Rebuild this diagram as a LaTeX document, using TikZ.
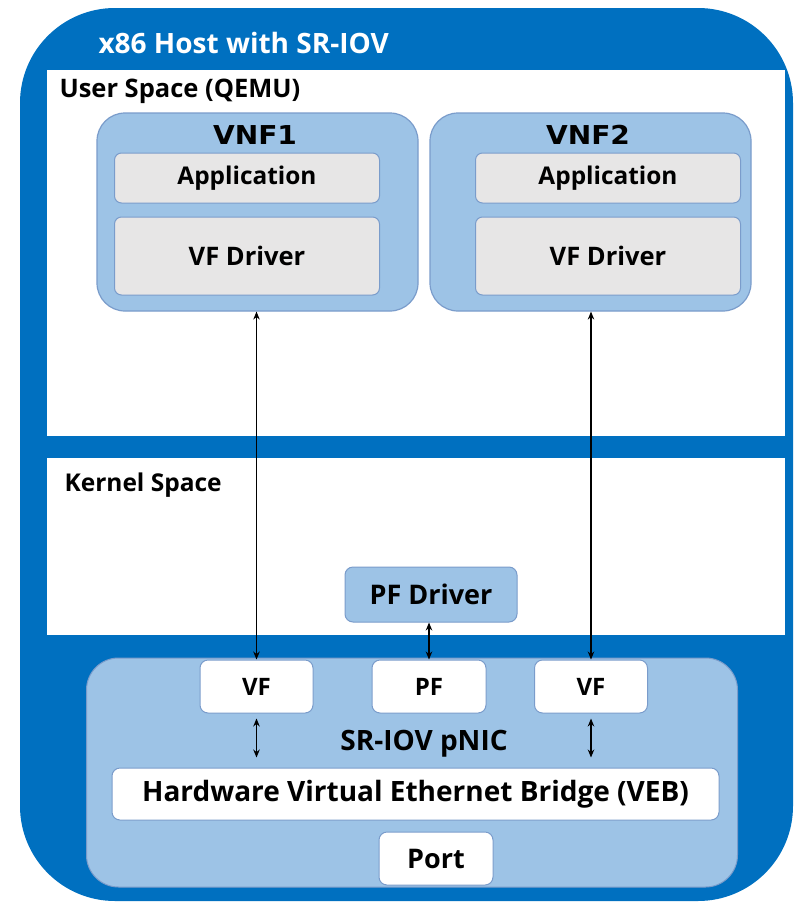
\documentclass[tikz,border=0pt]{standalone}
\usepackage{fontspec}
\setmainfont{Open Sans}
\newfontfamily\heavyfont{DejaVu Sans}
\usetikzlibrary{arrows.meta}
\definecolor{hostblue}{HTML}{0070C0}
\definecolor{lightblue}{HTML}{9DC3E6}
\definecolor{boxgray}{HTML}{E7E6E6}
\definecolor{edgeblue}{HTML}{7A9CCB}
\newcommand{\fsz}[1]{\fontsize{#1}{#1}\selectfont\bfseries}
\tikzset{
  panel/.style={fill=white, draw=none, minimum width=738, minimum height=#1, inner sep=0},
  vnfbox/.style={fill=lightblue, draw=edgeblue, line width=1.2, rounded corners=28, minimum width=321, minimum height=198, inner sep=0},
  graybox/.style={fill=boxgray, draw=edgeblue, line width=1, rounded corners=7, minimum width=265, inner sep=0},
  whitebox/.style={fill=white, draw=edgeblue, line width=1, rounded corners=8, inner sep=0},
  arr/.style={{Stealth[length=8,width=6.5]}-{Stealth[length=8,width=6.5]}, line width=1.2, black},
}
\newcommand{\vnflbl}{\heavyfont\fontsize{26}{26}\selectfont\bfseries}
\begin{document}
\begin{tikzpicture}[x=1pt,y=-1pt]
\useasboundingbox (0,0) rectangle (794,902);
% outer host
\fill[hostblue, rounded corners=95] (20,8) rectangle (793,901);
\node[anchor=west, text=white, font=\fsz{28}] (title) at (95,43) {x86 Host with SR-IOV};
% user space
\node[panel=366] (user) at (416,253) {};
\node[anchor=west, font=\fsz{25.5}] (userlbl) at (56,91) {User Space (QEMU)};
% kernel space
\node[panel=177] (kernel) at (416,546.5) {};
\node[anchor=west, font=\fsz{24.5}] (kernlbl) at (61,485) {Kernel Space};
% VNF1
\node[vnfbox] (vnf1) at (257.5,212) {};
\node[font=\vnflbl] (vnf1t) at (255,135) {\scalebox{1.08}[1]{VNF1}};
\node[graybox, minimum height=50, font=\fsz{24.4}] (app1) at (247,178) {Application};
\node[graybox, minimum height=78, font=\fsz{25.5}] (vfd1) at (247,256) {VF Driver};
% VNF2
\node[vnfbox] (vnf2) at (590.5,212) {};
\node[font=\vnflbl] (vnf2t) at (588,135) {\scalebox{1.08}[1]{VNF2}};
\node[graybox, minimum height=50, font=\fsz{24.4}] (app2) at (608,178) {Application};
\node[graybox, minimum height=78, font=\fsz{25.5}] (vfd2) at (608,256) {VF Driver};
% PF driver
\node[fill=lightblue, draw=edgeblue, line width=1, rounded corners=8, minimum width=172, minimum height=55, inner sep=0, font=\fsz{27}] (pfd) at (431,594.5) {PF Driver};
% pNIC
\node[fill=lightblue, draw=edgeblue, line width=1, rounded corners=32, minimum width=651, minimum height=229, inner sep=0] (nic) at (412,772.5) {};
\node[whitebox, minimum width=113, minimum height=53, font=\fsz{24}] (vf1) at (256.5,686.5) {VF};
\node[whitebox, minimum width=114, minimum height=53, font=\fsz{24}] (pf) at (429,686.5) {PF};
\node[whitebox, minimum width=113, minimum height=53, font=\fsz{24}] (vf2) at (591,686.5) {VF};
\node[font=\fsz{28}] (niclbl) at (424,744) {SR-IOV pNIC};
\node[whitebox, minimum width=607, minimum height=52, font=\fsz{28}] (veb) at (415.5,794) {Hardware Virtual Ethernet Bridge (VEB)};
\node[whitebox, minimum width=114, minimum height=53, font=\fsz{27}] (port) at (436,858.5) {Port};
% connectors
\draw[arr] (vnf1.south -| vf1.north) -- (vf1.north);
\draw[arr] (vnf2.south -| vf2.north) -- (vf2.north);
\draw[arr] (pfd.south -| pf.north) -- (pf.north);
\coordinate (a1) at ([yshift=-5]vf1.south);
\coordinate (b1) at ([yshift=10]veb.north -| vf1.south);
\draw[arr] (a1) -- (b1);
\coordinate (a2) at ([yshift=-5]vf2.south);
\coordinate (b2) at ([yshift=10]veb.north -| vf2.south);
\draw[arr] (a2) -- (b2);
\end{tikzpicture}
\end{document}
